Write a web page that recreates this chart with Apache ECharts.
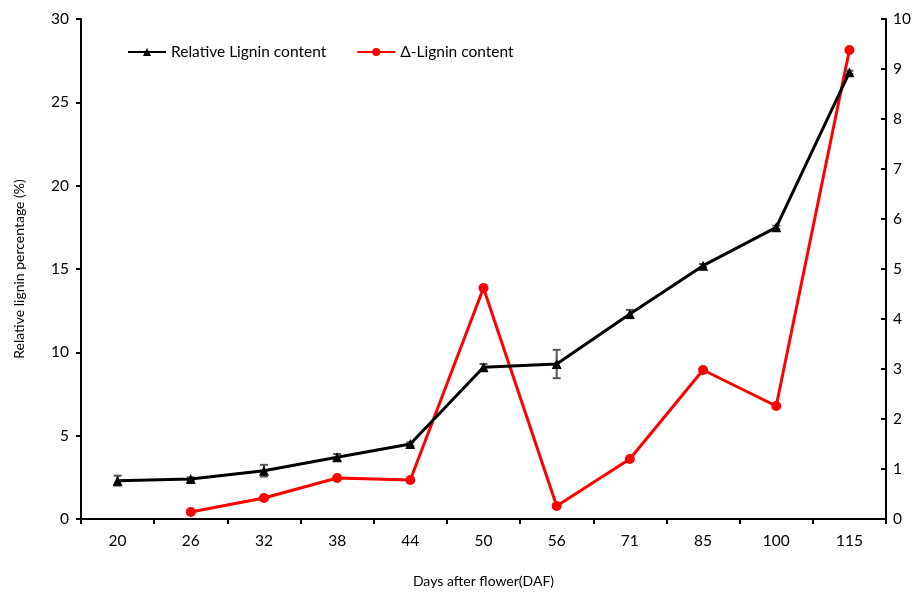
<!DOCTYPE html>
<html>
<head>
<meta charset="utf-8">
<script src="https://cdn.jsdelivr.net/npm/echarts@6/dist/echarts.min.js"></script>
<style>html,body{margin:0;padding:0;background:#fff;}#c{width:922px;height:595px;}</style>
</head>
<body>
<div id="c"></div>
<script>
const categories = ['20','26','32','38','44','50','56','71','85','100','115'];
const relativeLignin = [2.3, 2.4, 2.9, 3.7, 4.5, 9.1, 9.3, 12.3, 15.2, 17.5, 26.8];
const relativeErr = [0.3, 0.1, 0.35, 0.2, 0.1, 0.2, 0.85, 0.25, 0.1, 0.1, 0.1];
const deltaLignin = [null, 0.14, 0.42, 0.82, 0.78, 4.62, 0.26, 1.2, 2.98, 2.26, 9.38];
const leftTicks = {min: 0, max: 30, interval: 5};
const rightTicks = {min: 0, max: 10, interval: 1};

const FONT = 'Lato, "Open Sans", sans-serif';
const chart = echarts.init(document.getElementById('c'));
const errData = categories.map((c, i) => [i, relativeLignin[i] - relativeErr[i], relativeLignin[i] + relativeErr[i]]);

chart.setOption({
  animation: false,
  grid: {left: 81, right: 36, top: 19, bottom: 76, containLabel: false},
  legend: {
    top: 39, left: 122, itemGap: 30, itemWidth: 38, itemHeight: 10,
    textStyle: {fontFamily: FONT, fontSize: 15.5, color: '#000'},
    data: ['Relative Lignin content', 'Δ-Lignin content']
  },
  xAxis: {
    type: 'category', data: categories, boundaryGap: true,
    name: 'Days after flower(DAF)', nameLocation: 'middle', nameGap: 55,
    nameTextStyle: {fontFamily: FONT, fontSize: 14, color: '#000'},
    axisLine: {lineStyle: {color: '#000', width: 2}},
    axisTick: {show: true, length: 5, lineStyle: {color: '#000', width: 2}, alignWithLabel: false},
    axisLabel: {fontFamily: FONT, fontSize: 15.5, color: '#000', margin: 14},
    splitLine: {show: false}
  },
  yAxis: [{
    type: 'value', min: leftTicks.min, max: leftTicks.max, interval: leftTicks.interval,
    name: 'Relative lignin percentage (%)', nameLocation: 'middle', nameGap: 55, nameRotate: 90,
    nameTextStyle: {fontFamily: FONT, fontSize: 14, color: '#000'},
    axisLine: {show: true, lineStyle: {color: '#000', width: 2}},
    axisTick: {show: true, length: 5, lineStyle: {color: '#000', width: 2}},
    axisLabel: {fontFamily: FONT, fontSize: 15.5, color: '#000', margin: 12},
    splitLine: {show: false}
  }, {
    type: 'value', min: rightTicks.min, max: rightTicks.max, interval: rightTicks.interval, position: 'right',
    axisLine: {show: true, lineStyle: {color: '#000', width: 2}},
    axisTick: {show: true, inside: true, length: 5, lineStyle: {color: '#000', width: 2}},
    axisLabel: {fontFamily: FONT, fontSize: 15.5, color: '#000', margin: 7},
    splitLine: {show: false}
  }],
  series: [{
    name: 'Relative Lignin content', type: 'line', yAxisIndex: 0, data: relativeLignin,
    symbol: 'triangle', symbolSize: 10, color: '#000',
    lineStyle: {color: '#000', width: 3}, itemStyle: {color: '#000'}, z: 4
  }, {
    type: 'custom', yAxisIndex: 0, data: errData, z: 3, silent: true,
    renderItem: function (params, api) {
      const x = api.value(0);
      const lo = api.coord([x, api.value(1)]);
      const hi = api.coord([x, api.value(2)]);
      const w = 4;
      const st = {stroke: '#555', lineWidth: 2};
      return {type: 'group', children: [
        {type: 'line', shape: {x1: lo[0], y1: lo[1], x2: hi[0], y2: hi[1]}, style: st},
        {type: 'line', shape: {x1: lo[0]-w, y1: lo[1], x2: lo[0]+w, y2: lo[1]}, style: st},
        {type: 'line', shape: {x1: hi[0]-w, y1: hi[1], x2: hi[0]+w, y2: hi[1]}, style: st}
      ]};
    }
  }, {
    name: 'Δ-Lignin content', type: 'line', yAxisIndex: 1, data: deltaLignin,
    symbol: 'circle', symbolSize: 10, color: '#ff0000',
    lineStyle: {color: '#ff0000', width: 3}, itemStyle: {color: '#ff0000'}, z: 2
  }]
});
</script>
</body>
</html>
